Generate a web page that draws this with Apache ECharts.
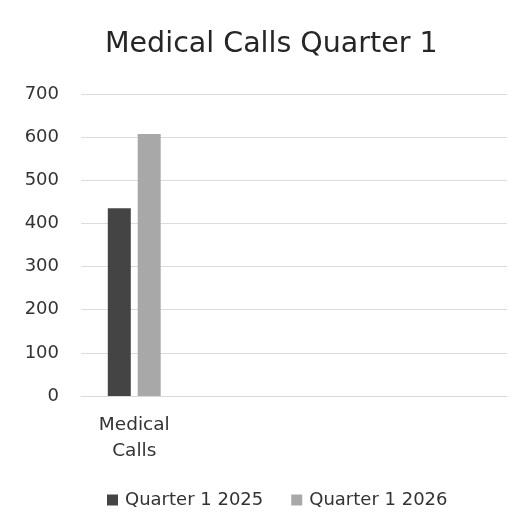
<!DOCTYPE html>
<html>
<head>
<meta charset="utf-8">
<script src="https://cdn.jsdelivr.net/npm/echarts@6/dist/echarts.min.js"></script>
<style>
  html, body { margin: 0; padding: 0; background: #ffffff; }
  #chart { width: 524px; height: 531px; }
</style>
</head>
<body>
<div id="chart"></div>
<script>
// Category slots: one labelled group, the rest left empty
const categories = ['Medical\nCalls', '', '', ''];
const seriesNames = ['Quarter 1 2025', 'Quarter 1 2026'];
const q1_2025 = [435, null, null, null];
const q1_2026 = [607, null, null, null];
const yTicks = { min: 0, max: 700, step: 100 };

const FONT = '"DejaVu Sans", "Noto Sans", sans-serif';
const chart = echarts.init(document.getElementById('chart'), null, { renderer: 'canvas' });

chart.setOption({
  backgroundColor: '#ffffff',
  animation: false,
  title: {
    text: 'Medical Calls Quarter 1',
    left: 100,
    top: 25,
    textStyle: { fontFamily: FONT, fontSize: 28.5, fontWeight: 'normal', color: '#262626' }
  },
  legend: {
    left: 102,
    top: 486,
    icon: 'rect',
    itemWidth: 11,
    itemHeight: 11,
    itemGap: 28,
    textStyle: { fontFamily: FONT, fontSize: 18, color: '#333333', padding: [0, 0, 0, 2] },
    data: seriesNames
  },
  grid: { left: 81, right: 17, top: 94, bottom: 135, containLabel: false },
  xAxis: {
    type: 'category',
    data: categories,
    axisLine: { show: true, lineStyle: { color: '#d9d9d9', width: 1 } },
    axisTick: { show: false },
    axisLabel: {
      fontFamily: FONT, fontSize: 18.5, color: '#333333',
      lineHeight: 26, margin: 16, interval: 0
    }
  },
  yAxis: {
    type: 'value',
    min: yTicks.min,
    max: yTicks.max,
    interval: yTicks.step,
    axisLine: { show: false },
    axisTick: { show: false },
    splitLine: { lineStyle: { color: '#dcdcdc', width: 1 } },
    axisLabel: { fontFamily: FONT, fontSize: 18, color: '#333333', margin: 22 }
  },
  series: [
    {
      name: seriesNames[0],
      type: 'bar',
      data: q1_2025,
      barWidth: 23,
      barGap: '30%',
      itemStyle: { color: '#444444' }
    },
    {
      name: seriesNames[1],
      type: 'bar',
      data: q1_2026,
      barWidth: 23,
      itemStyle: { color: '#a8a8a8' }
    }
  ]
});
</script>
</body>
</html>
